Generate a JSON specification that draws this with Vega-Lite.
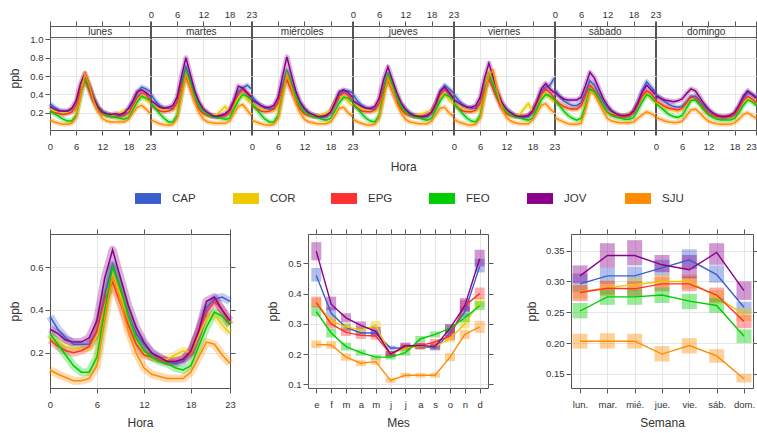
{
"$schema":"https://vega.github.io/schema/vega-lite/v6.json",
"padding":{"left":8,"top":8,"right":0,"bottom":2},
"config":{"font":"Liberation Sans, Arial, sans-serif","view":{"stroke":"#555"},
"axis":{"labelFontSize":9.5,"titleFontSize":12,"labelColor":"#333","titleColor":"#333","titleFontWeight":"normal","tickColor":"#555","domain":false,"gridColor":"#e6e6e6","labelFlush":false,"tickSize":5,"labelOverlap":false,"titlePadding":8}},
"datasets":{
"week":[
{"d":0,"h":0,"CAP":0.3,"COR":0.24,"EPG":0.22,"FEO":0.22,"JOV":0.27,"SJU":0.12},
{"d":0,"h":1,"CAP":0.26,"COR":0.22,"EPG":0.2,"FEO":0.19,"JOV":0.24,"SJU":0.1},
{"d":0,"h":2,"CAP":0.23,"COR":0.21,"EPG":0.19,"FEO":0.16,"JOV":0.22,"SJU":0.085},
{"d":0,"h":3,"CAP":0.21,"COR":0.2,"EPG":0.18,"FEO":0.13,"JOV":0.22,"SJU":0.075},
{"d":0,"h":4,"CAP":0.21,"COR":0.2,"EPG":0.19,"FEO":0.11,"JOV":0.22,"SJU":0.075},
{"d":0,"h":5,"CAP":0.22,"COR":0.21,"EPG":0.21,"FEO":0.11,"JOV":0.25,"SJU":0.085},
{"d":0,"h":6,"CAP":0.28,"COR":0.27,"EPG":0.28,"FEO":0.17,"JOV":0.33,"SJU":0.15},
{"d":0,"h":7,"CAP":0.45,"COR":0.45,"EPG":0.45,"FEO":0.38,"JOV":0.52,"SJU":0.38},
{"d":0,"h":8,"CAP":0.58,"COR":0.6,"EPG":0.56,"FEO":0.58,"JOV":0.63,"SJU":0.63},
{"d":0,"h":9,"CAP":0.48,"COR":0.48,"EPG":0.44,"FEO":0.47,"JOV":0.5,"SJU":0.5},
{"d":0,"h":10,"CAP":0.35,"COR":0.35,"EPG":0.32,"FEO":0.34,"JOV":0.36,"SJU":0.33},
{"d":0,"h":11,"CAP":0.26,"COR":0.25,"EPG":0.23,"FEO":0.25,"JOV":0.26,"SJU":0.21},
{"d":0,"h":12,"CAP":0.21,"COR":0.2,"EPG":0.19,"FEO":0.2,"JOV":0.21,"SJU":0.14},
{"d":0,"h":13,"CAP":0.19,"COR":0.18,"EPG":0.17,"FEO":0.17,"JOV":0.19,"SJU":0.11},
{"d":0,"h":14,"CAP":0.17,"COR":0.17,"EPG":0.16,"FEO":0.16,"JOV":0.18,"SJU":0.1},
{"d":0,"h":15,"CAP":0.17,"COR":0.18,"EPG":0.16,"FEO":0.15,"JOV":0.19,"SJU":0.1},
{"d":0,"h":16,"CAP":0.17,"COR":0.2,"EPG":0.16,"FEO":0.14,"JOV":0.18,"SJU":0.1},
{"d":0,"h":17,"CAP":0.19,"COR":0.22,"EPG":0.17,"FEO":0.13,"JOV":0.2,"SJU":0.1},
{"d":0,"h":18,"CAP":0.23,"COR":0.22,"EPG":0.2,"FEO":0.15,"JOV":0.25,"SJU":0.13},
{"d":0,"h":19,"CAP":0.32,"COR":0.27,"EPG":0.28,"FEO":0.23,"JOV":0.33,"SJU":0.2},
{"d":0,"h":20,"CAP":0.42,"COR":0.34,"EPG":0.37,"FEO":0.32,"JOV":0.43,"SJU":0.26},
{"d":0,"h":21,"CAP":0.48,"COR":0.38,"EPG":0.42,"FEO":0.38,"JOV":0.45,"SJU":0.28},
{"d":0,"h":22,"CAP":0.46,"COR":0.34,"EPG":0.4,"FEO":0.36,"JOV":0.42,"SJU":0.24},
{"d":0,"h":23,"CAP":0.43,"COR":0.3,"EPG":0.34,"FEO":0.33,"JOV":0.38,"SJU":0.19},
{"d":1,"h":0,"CAP":0.4,"COR":0.29,"EPG":0.28,"FEO":0.3,"JOV":0.33,"SJU":0.12},
{"d":1,"h":1,"CAP":0.33,"COR":0.26,"EPG":0.25,"FEO":0.25,"JOV":0.3,"SJU":0.1},
{"d":1,"h":2,"CAP":0.28,"COR":0.24,"EPG":0.22,"FEO":0.19,"JOV":0.26,"SJU":0.08},
{"d":1,"h":3,"CAP":0.25,"COR":0.23,"EPG":0.21,"FEO":0.14,"JOV":0.25,"SJU":0.07},
{"d":1,"h":4,"CAP":0.24,"COR":0.23,"EPG":0.22,"FEO":0.1,"JOV":0.26,"SJU":0.065},
{"d":1,"h":5,"CAP":0.25,"COR":0.23,"EPG":0.24,"FEO":0.1,"JOV":0.28,"SJU":0.075},
{"d":1,"h":6,"CAP":0.31,"COR":0.29,"EPG":0.31,"FEO":0.17,"JOV":0.37,"SJU":0.14},
{"d":1,"h":7,"CAP":0.52,"COR":0.48,"EPG":0.5,"FEO":0.42,"JOV":0.6,"SJU":0.38},
{"d":1,"h":8,"CAP":0.7,"COR":0.62,"EPG":0.6,"FEO":0.66,"JOV":0.8,"SJU":0.62},
{"d":1,"h":9,"CAP":0.55,"COR":0.5,"EPG":0.47,"FEO":0.53,"JOV":0.62,"SJU":0.48},
{"d":1,"h":10,"CAP":0.4,"COR":0.38,"EPG":0.34,"FEO":0.38,"JOV":0.44,"SJU":0.32},
{"d":1,"h":11,"CAP":0.29,"COR":0.27,"EPG":0.24,"FEO":0.27,"JOV":0.32,"SJU":0.2},
{"d":1,"h":12,"CAP":0.23,"COR":0.21,"EPG":0.19,"FEO":0.21,"JOV":0.24,"SJU":0.13},
{"d":1,"h":13,"CAP":0.19,"COR":0.18,"EPG":0.17,"FEO":0.18,"JOV":0.2,"SJU":0.1},
{"d":1,"h":14,"CAP":0.17,"COR":0.17,"EPG":0.16,"FEO":0.16,"JOV":0.17,"SJU":0.09},
{"d":1,"h":15,"CAP":0.16,"COR":0.18,"EPG":0.16,"FEO":0.15,"JOV":0.16,"SJU":0.085},
{"d":1,"h":16,"CAP":0.16,"COR":0.22,"EPG":0.16,"FEO":0.14,"JOV":0.17,"SJU":0.085},
{"d":1,"h":17,"CAP":0.17,"COR":0.27,"EPG":0.17,"FEO":0.13,"JOV":0.19,"SJU":0.085},
{"d":1,"h":18,"CAP":0.21,"COR":0.2,"EPG":0.2,"FEO":0.14,"JOV":0.23,"SJU":0.11},
{"d":1,"h":19,"CAP":0.32,"COR":0.29,"EPG":0.31,"FEO":0.24,"JOV":0.33,"SJU":0.19},
{"d":1,"h":20,"CAP":0.43,"COR":0.37,"EPG":0.4,"FEO":0.33,"JOV":0.49,"SJU":0.27},
{"d":1,"h":21,"CAP":0.47,"COR":0.4,"EPG":0.45,"FEO":0.4,"JOV":0.47,"SJU":0.29},
{"d":1,"h":22,"CAP":0.5,"COR":0.34,"EPG":0.41,"FEO":0.38,"JOV":0.42,"SJU":0.23},
{"d":1,"h":23,"CAP":0.46,"COR":0.3,"EPG":0.34,"FEO":0.34,"JOV":0.37,"SJU":0.17},
{"d":2,"h":0,"CAP":0.38,"COR":0.3,"EPG":0.28,"FEO":0.3,"JOV":0.34,"SJU":0.12},
{"d":2,"h":1,"CAP":0.32,"COR":0.26,"EPG":0.25,"FEO":0.24,"JOV":0.31,"SJU":0.1},
{"d":2,"h":2,"CAP":0.28,"COR":0.24,"EPG":0.22,"FEO":0.18,"JOV":0.28,"SJU":0.08},
{"d":2,"h":3,"CAP":0.25,"COR":0.23,"EPG":0.21,"FEO":0.13,"JOV":0.26,"SJU":0.07},
{"d":2,"h":4,"CAP":0.24,"COR":0.22,"EPG":0.22,"FEO":0.1,"JOV":0.26,"SJU":0.065},
{"d":2,"h":5,"CAP":0.25,"COR":0.22,"EPG":0.24,"FEO":0.1,"JOV":0.28,"SJU":0.075},
{"d":2,"h":6,"CAP":0.31,"COR":0.28,"EPG":0.31,"FEO":0.17,"JOV":0.37,"SJU":0.14},
{"d":2,"h":7,"CAP":0.5,"COR":0.46,"EPG":0.48,"FEO":0.42,"JOV":0.6,"SJU":0.38},
{"d":2,"h":8,"CAP":0.66,"COR":0.6,"EPG":0.56,"FEO":0.64,"JOV":0.81,"SJU":0.62},
{"d":2,"h":9,"CAP":0.53,"COR":0.49,"EPG":0.44,"FEO":0.52,"JOV":0.62,"SJU":0.48},
{"d":2,"h":10,"CAP":0.4,"COR":0.38,"EPG":0.33,"FEO":0.38,"JOV":0.44,"SJU":0.31},
{"d":2,"h":11,"CAP":0.3,"COR":0.27,"EPG":0.24,"FEO":0.27,"JOV":0.32,"SJU":0.2},
{"d":2,"h":12,"CAP":0.24,"COR":0.2,"EPG":0.19,"FEO":0.21,"JOV":0.25,"SJU":0.13},
{"d":2,"h":13,"CAP":0.2,"COR":0.18,"EPG":0.17,"FEO":0.18,"JOV":0.2,"SJU":0.1},
{"d":2,"h":14,"CAP":0.17,"COR":0.17,"EPG":0.16,"FEO":0.16,"JOV":0.18,"SJU":0.09},
{"d":2,"h":15,"CAP":0.16,"COR":0.17,"EPG":0.16,"FEO":0.15,"JOV":0.16,"SJU":0.08},
{"d":2,"h":16,"CAP":0.15,"COR":0.18,"EPG":0.16,"FEO":0.13,"JOV":0.16,"SJU":0.08},
{"d":2,"h":17,"CAP":0.16,"COR":0.2,"EPG":0.17,"FEO":0.12,"JOV":0.17,"SJU":0.08},
{"d":2,"h":18,"CAP":0.2,"COR":0.22,"EPG":0.2,"FEO":0.14,"JOV":0.21,"SJU":0.1},
{"d":2,"h":19,"CAP":0.3,"COR":0.32,"EPG":0.3,"FEO":0.22,"JOV":0.31,"SJU":0.17},
{"d":2,"h":20,"CAP":0.4,"COR":0.38,"EPG":0.38,"FEO":0.31,"JOV":0.43,"SJU":0.25},
{"d":2,"h":21,"CAP":0.44,"COR":0.37,"EPG":0.42,"FEO":0.37,"JOV":0.45,"SJU":0.26},
{"d":2,"h":22,"CAP":0.44,"COR":0.32,"EPG":0.39,"FEO":0.36,"JOV":0.42,"SJU":0.2},
{"d":2,"h":23,"CAP":0.42,"COR":0.28,"EPG":0.33,"FEO":0.32,"JOV":0.37,"SJU":0.16},
{"d":3,"h":0,"CAP":0.4,"COR":0.3,"EPG":0.28,"FEO":0.3,"JOV":0.33,"SJU":0.13},
{"d":3,"h":1,"CAP":0.33,"COR":0.27,"EPG":0.25,"FEO":0.25,"JOV":0.3,"SJU":0.1},
{"d":3,"h":2,"CAP":0.28,"COR":0.24,"EPG":0.22,"FEO":0.19,"JOV":0.27,"SJU":0.085},
{"d":3,"h":3,"CAP":0.25,"COR":0.23,"EPG":0.21,"FEO":0.14,"JOV":0.25,"SJU":0.07},
{"d":3,"h":4,"CAP":0.24,"COR":0.22,"EPG":0.21,"FEO":0.11,"JOV":0.25,"SJU":0.065},
{"d":3,"h":5,"CAP":0.24,"COR":0.22,"EPG":0.23,"FEO":0.1,"JOV":0.27,"SJU":0.075},
{"d":3,"h":6,"CAP":0.3,"COR":0.28,"EPG":0.3,"FEO":0.17,"JOV":0.36,"SJU":0.14},
{"d":3,"h":7,"CAP":0.47,"COR":0.45,"EPG":0.46,"FEO":0.41,"JOV":0.56,"SJU":0.36},
{"d":3,"h":8,"CAP":0.62,"COR":0.58,"EPG":0.56,"FEO":0.62,"JOV":0.7,"SJU":0.58},
{"d":3,"h":9,"CAP":0.5,"COR":0.48,"EPG":0.44,"FEO":0.51,"JOV":0.56,"SJU":0.45},
{"d":3,"h":10,"CAP":0.38,"COR":0.37,"EPG":0.33,"FEO":0.37,"JOV":0.42,"SJU":0.3},
{"d":3,"h":11,"CAP":0.29,"COR":0.27,"EPG":0.24,"FEO":0.27,"JOV":0.31,"SJU":0.2},
{"d":3,"h":12,"CAP":0.24,"COR":0.2,"EPG":0.19,"FEO":0.21,"JOV":0.24,"SJU":0.13},
{"d":3,"h":13,"CAP":0.2,"COR":0.18,"EPG":0.17,"FEO":0.18,"JOV":0.19,"SJU":0.1},
{"d":3,"h":14,"CAP":0.17,"COR":0.17,"EPG":0.16,"FEO":0.16,"JOV":0.17,"SJU":0.09},
{"d":3,"h":15,"CAP":0.16,"COR":0.18,"EPG":0.16,"FEO":0.15,"JOV":0.16,"SJU":0.08},
{"d":3,"h":16,"CAP":0.15,"COR":0.19,"EPG":0.16,"FEO":0.13,"JOV":0.16,"SJU":0.08},
{"d":3,"h":17,"CAP":0.16,"COR":0.21,"EPG":0.17,"FEO":0.12,"JOV":0.17,"SJU":0.08},
{"d":3,"h":18,"CAP":0.2,"COR":0.21,"EPG":0.2,"FEO":0.14,"JOV":0.21,"SJU":0.11},
{"d":3,"h":19,"CAP":0.3,"COR":0.3,"EPG":0.3,"FEO":0.23,"JOV":0.3,"SJU":0.18},
{"d":3,"h":20,"CAP":0.42,"COR":0.38,"EPG":0.4,"FEO":0.33,"JOV":0.44,"SJU":0.25},
{"d":3,"h":21,"CAP":0.5,"COR":0.4,"EPG":0.45,"FEO":0.4,"JOV":0.48,"SJU":0.26},
{"d":3,"h":22,"CAP":0.46,"COR":0.34,"EPG":0.41,"FEO":0.38,"JOV":0.42,"SJU":0.2},
{"d":3,"h":23,"CAP":0.42,"COR":0.3,"EPG":0.34,"FEO":0.34,"JOV":0.36,"SJU":0.16},
{"d":4,"h":0,"CAP":0.4,"COR":0.3,"EPG":0.29,"FEO":0.3,"JOV":0.34,"SJU":0.13},
{"d":4,"h":1,"CAP":0.34,"COR":0.27,"EPG":0.25,"FEO":0.25,"JOV":0.31,"SJU":0.1},
{"d":4,"h":2,"CAP":0.29,"COR":0.24,"EPG":0.22,"FEO":0.19,"JOV":0.28,"SJU":0.085},
{"d":4,"h":3,"CAP":0.26,"COR":0.23,"EPG":0.21,"FEO":0.14,"JOV":0.26,"SJU":0.07},
{"d":4,"h":4,"CAP":0.25,"COR":0.22,"EPG":0.21,"FEO":0.11,"JOV":0.26,"SJU":0.065},
{"d":4,"h":5,"CAP":0.25,"COR":0.22,"EPG":0.23,"FEO":0.1,"JOV":0.28,"SJU":0.075},
{"d":4,"h":6,"CAP":0.31,"COR":0.28,"EPG":0.3,"FEO":0.17,"JOV":0.37,"SJU":0.14},
{"d":4,"h":7,"CAP":0.48,"COR":0.46,"EPG":0.46,"FEO":0.41,"JOV":0.58,"SJU":0.38},
{"d":4,"h":8,"CAP":0.62,"COR":0.64,"EPG":0.57,"FEO":0.62,"JOV":0.74,"SJU":0.62},
{"d":4,"h":9,"CAP":0.5,"COR":0.52,"EPG":0.45,"FEO":0.51,"JOV":0.58,"SJU":0.66},
{"d":4,"h":10,"CAP":0.38,"COR":0.4,"EPG":0.34,"FEO":0.37,"JOV":0.43,"SJU":0.42},
{"d":4,"h":11,"CAP":0.29,"COR":0.28,"EPG":0.24,"FEO":0.27,"JOV":0.31,"SJU":0.25},
{"d":4,"h":12,"CAP":0.24,"COR":0.21,"EPG":0.19,"FEO":0.21,"JOV":0.24,"SJU":0.15},
{"d":4,"h":13,"CAP":0.2,"COR":0.18,"EPG":0.17,"FEO":0.18,"JOV":0.2,"SJU":0.11},
{"d":4,"h":14,"CAP":0.17,"COR":0.17,"EPG":0.16,"FEO":0.16,"JOV":0.17,"SJU":0.09},
{"d":4,"h":15,"CAP":0.16,"COR":0.18,"EPG":0.16,"FEO":0.15,"JOV":0.16,"SJU":0.08},
{"d":4,"h":16,"CAP":0.15,"COR":0.24,"EPG":0.16,"FEO":0.13,"JOV":0.16,"SJU":0.08},
{"d":4,"h":17,"CAP":0.16,"COR":0.3,"EPG":0.17,"FEO":0.12,"JOV":0.17,"SJU":0.08},
{"d":4,"h":18,"CAP":0.2,"COR":0.22,"EPG":0.21,"FEO":0.14,"JOV":0.22,"SJU":0.12},
{"d":4,"h":19,"CAP":0.31,"COR":0.3,"EPG":0.31,"FEO":0.24,"JOV":0.32,"SJU":0.2},
{"d":4,"h":20,"CAP":0.43,"COR":0.39,"EPG":0.4,"FEO":0.34,"JOV":0.46,"SJU":0.28},
{"d":4,"h":21,"CAP":0.48,"COR":0.41,"EPG":0.46,"FEO":0.4,"JOV":0.52,"SJU":0.3},
{"d":4,"h":22,"CAP":0.5,"COR":0.36,"EPG":0.42,"FEO":0.38,"JOV":0.46,"SJU":0.24},
{"d":4,"h":23,"CAP":0.58,"COR":0.32,"EPG":0.36,"FEO":0.34,"JOV":0.42,"SJU":0.2},
{"d":5,"h":0,"CAP":0.45,"COR":0.33,"EPG":0.34,"FEO":0.33,"JOV":0.42,"SJU":0.15},
{"d":5,"h":1,"CAP":0.38,"COR":0.3,"EPG":0.3,"FEO":0.28,"JOV":0.38,"SJU":0.12},
{"d":5,"h":2,"CAP":0.33,"COR":0.27,"EPG":0.27,"FEO":0.22,"JOV":0.35,"SJU":0.1},
{"d":5,"h":3,"CAP":0.3,"COR":0.25,"EPG":0.25,"FEO":0.17,"JOV":0.34,"SJU":0.08},
{"d":5,"h":4,"CAP":0.28,"COR":0.24,"EPG":0.24,"FEO":0.14,"JOV":0.34,"SJU":0.075},
{"d":5,"h":5,"CAP":0.28,"COR":0.24,"EPG":0.24,"FEO":0.12,"JOV":0.34,"SJU":0.075},
{"d":5,"h":6,"CAP":0.31,"COR":0.27,"EPG":0.28,"FEO":0.14,"JOV":0.37,"SJU":0.09},
{"d":5,"h":7,"CAP":0.42,"COR":0.38,"EPG":0.39,"FEO":0.28,"JOV":0.5,"SJU":0.24},
{"d":5,"h":8,"CAP":0.55,"COR":0.5,"EPG":0.5,"FEO":0.46,"JOV":0.64,"SJU":0.43},
{"d":5,"h":9,"CAP":0.5,"COR":0.45,"EPG":0.45,"FEO":0.43,"JOV":0.58,"SJU":0.4},
{"d":5,"h":10,"CAP":0.41,"COR":0.37,"EPG":0.37,"FEO":0.36,"JOV":0.47,"SJU":0.31},
{"d":5,"h":11,"CAP":0.32,"COR":0.29,"EPG":0.28,"FEO":0.28,"JOV":0.36,"SJU":0.22},
{"d":5,"h":12,"CAP":0.25,"COR":0.22,"EPG":0.21,"FEO":0.21,"JOV":0.28,"SJU":0.14},
{"d":5,"h":13,"CAP":0.21,"COR":0.19,"EPG":0.18,"FEO":0.17,"JOV":0.22,"SJU":0.11},
{"d":5,"h":14,"CAP":0.18,"COR":0.17,"EPG":0.17,"FEO":0.15,"JOV":0.19,"SJU":0.1},
{"d":5,"h":15,"CAP":0.17,"COR":0.17,"EPG":0.16,"FEO":0.14,"JOV":0.17,"SJU":0.09},
{"d":5,"h":16,"CAP":0.16,"COR":0.17,"EPG":0.16,"FEO":0.13,"JOV":0.17,"SJU":0.09},
{"d":5,"h":17,"CAP":0.17,"COR":0.19,"EPG":0.17,"FEO":0.13,"JOV":0.18,"SJU":0.09},
{"d":5,"h":18,"CAP":0.21,"COR":0.21,"EPG":0.2,"FEO":0.15,"JOV":0.22,"SJU":0.1},
{"d":5,"h":19,"CAP":0.31,"COR":0.29,"EPG":0.29,"FEO":0.23,"JOV":0.31,"SJU":0.14},
{"d":5,"h":20,"CAP":0.44,"COR":0.37,"EPG":0.38,"FEO":0.32,"JOV":0.43,"SJU":0.18},
{"d":5,"h":21,"CAP":0.54,"COR":0.42,"EPG":0.44,"FEO":0.4,"JOV":0.5,"SJU":0.21},
{"d":5,"h":22,"CAP":0.48,"COR":0.36,"EPG":0.41,"FEO":0.37,"JOV":0.45,"SJU":0.19},
{"d":5,"h":23,"CAP":0.43,"COR":0.31,"EPG":0.35,"FEO":0.32,"JOV":0.4,"SJU":0.16},
{"d":6,"h":0,"CAP":0.4,"COR":0.32,"EPG":0.33,"FEO":0.3,"JOV":0.38,"SJU":0.15},
{"d":6,"h":1,"CAP":0.36,"COR":0.29,"EPG":0.3,"FEO":0.26,"JOV":0.36,"SJU":0.13},
{"d":6,"h":2,"CAP":0.32,"COR":0.26,"EPG":0.27,"FEO":0.22,"JOV":0.34,"SJU":0.11},
{"d":6,"h":3,"CAP":0.29,"COR":0.24,"EPG":0.25,"FEO":0.18,"JOV":0.33,"SJU":0.1},
{"d":6,"h":4,"CAP":0.27,"COR":0.23,"EPG":0.24,"FEO":0.16,"JOV":0.32,"SJU":0.095},
{"d":6,"h":5,"CAP":0.26,"COR":0.22,"EPG":0.23,"FEO":0.15,"JOV":0.33,"SJU":0.095},
{"d":6,"h":6,"CAP":0.27,"COR":0.24,"EPG":0.25,"FEO":0.17,"JOV":0.35,"SJU":0.11},
{"d":6,"h":7,"CAP":0.32,"COR":0.3,"EPG":0.31,"FEO":0.25,"JOV":0.41,"SJU":0.17},
{"d":6,"h":8,"CAP":0.38,"COR":0.36,"EPG":0.37,"FEO":0.33,"JOV":0.46,"SJU":0.23},
{"d":6,"h":9,"CAP":0.38,"COR":0.36,"EPG":0.36,"FEO":0.34,"JOV":0.44,"SJU":0.24},
{"d":6,"h":10,"CAP":0.33,"COR":0.31,"EPG":0.31,"FEO":0.29,"JOV":0.37,"SJU":0.2},
{"d":6,"h":11,"CAP":0.27,"COR":0.25,"EPG":0.25,"FEO":0.23,"JOV":0.3,"SJU":0.15},
{"d":6,"h":12,"CAP":0.22,"COR":0.2,"EPG":0.2,"FEO":0.18,"JOV":0.24,"SJU":0.11},
{"d":6,"h":13,"CAP":0.18,"COR":0.17,"EPG":0.17,"FEO":0.15,"JOV":0.2,"SJU":0.09},
{"d":6,"h":14,"CAP":0.16,"COR":0.16,"EPG":0.16,"FEO":0.13,"JOV":0.17,"SJU":0.08},
{"d":6,"h":15,"CAP":0.15,"COR":0.15,"EPG":0.15,"FEO":0.12,"JOV":0.16,"SJU":0.075},
{"d":6,"h":16,"CAP":0.15,"COR":0.15,"EPG":0.15,"FEO":0.12,"JOV":0.16,"SJU":0.075},
{"d":6,"h":17,"CAP":0.16,"COR":0.16,"EPG":0.16,"FEO":0.12,"JOV":0.17,"SJU":0.075},
{"d":6,"h":18,"CAP":0.19,"COR":0.19,"EPG":0.18,"FEO":0.14,"JOV":0.2,"SJU":0.09},
{"d":6,"h":19,"CAP":0.26,"COR":0.25,"EPG":0.25,"FEO":0.2,"JOV":0.28,"SJU":0.13},
{"d":6,"h":20,"CAP":0.35,"COR":0.32,"EPG":0.33,"FEO":0.28,"JOV":0.38,"SJU":0.18},
{"d":6,"h":21,"CAP":0.42,"COR":0.36,"EPG":0.38,"FEO":0.34,"JOV":0.44,"SJU":0.2},
{"d":6,"h":22,"CAP":0.4,"COR":0.33,"EPG":0.35,"FEO":0.32,"JOV":0.4,"SJU":0.17},
{"d":6,"h":23,"CAP":0.37,"COR":0.29,"EPG":0.31,"FEO":0.28,"JOV":0.36,"SJU":0.14}
],
"hour":[
{"h":0,"CAP":0.37,"COR":0.28,"EPG":0.26,"FEO":0.29,"JOV":0.31,"SJU":0.12},
{"h":1,"CAP":0.31,"COR":0.25,"EPG":0.23,"FEO":0.24,"JOV":0.29,"SJU":0.1},
{"h":2,"CAP":0.27,"COR":0.23,"EPG":0.21,"FEO":0.19,"JOV":0.26,"SJU":0.085},
{"h":3,"CAP":0.24,"COR":0.22,"EPG":0.2,"FEO":0.14,"JOV":0.25,"SJU":0.07},
{"h":4,"CAP":0.24,"COR":0.22,"EPG":0.21,"FEO":0.11,"JOV":0.25,"SJU":0.07},
{"h":5,"CAP":0.24,"COR":0.22,"EPG":0.23,"FEO":0.11,"JOV":0.27,"SJU":0.08},
{"h":6,"CAP":0.3,"COR":0.28,"EPG":0.3,"FEO":0.18,"JOV":0.35,"SJU":0.14},
{"h":7,"CAP":0.47,"COR":0.44,"EPG":0.45,"FEO":0.4,"JOV":0.55,"SJU":0.35},
{"h":8,"CAP":0.61,"COR":0.56,"EPG":0.53,"FEO":0.6,"JOV":0.68,"SJU":0.56},
{"h":9,"CAP":0.5,"COR":0.47,"EPG":0.43,"FEO":0.5,"JOV":0.55,"SJU":0.44},
{"h":10,"CAP":0.38,"COR":0.37,"EPG":0.33,"FEO":0.37,"JOV":0.42,"SJU":0.3},
{"h":11,"CAP":0.29,"COR":0.27,"EPG":0.24,"FEO":0.27,"JOV":0.32,"SJU":0.2},
{"h":12,"CAP":0.24,"COR":0.2,"EPG":0.19,"FEO":0.21,"JOV":0.25,"SJU":0.13},
{"h":13,"CAP":0.2,"COR":0.18,"EPG":0.18,"FEO":0.18,"JOV":0.2,"SJU":0.1},
{"h":14,"CAP":0.17,"COR":0.17,"EPG":0.17,"FEO":0.16,"JOV":0.18,"SJU":0.09},
{"h":15,"CAP":0.16,"COR":0.17,"EPG":0.16,"FEO":0.15,"JOV":0.16,"SJU":0.08},
{"h":16,"CAP":0.15,"COR":0.19,"EPG":0.16,"FEO":0.13,"JOV":0.16,"SJU":0.08},
{"h":17,"CAP":0.16,"COR":0.21,"EPG":0.17,"FEO":0.12,"JOV":0.17,"SJU":0.08},
{"h":18,"CAP":0.2,"COR":0.2,"EPG":0.2,"FEO":0.14,"JOV":0.21,"SJU":0.11},
{"h":19,"CAP":0.3,"COR":0.28,"EPG":0.3,"FEO":0.23,"JOV":0.3,"SJU":0.18},
{"h":20,"CAP":0.41,"COR":0.36,"EPG":0.39,"FEO":0.32,"JOV":0.44,"SJU":0.25},
{"h":21,"CAP":0.45,"COR":0.38,"EPG":0.44,"FEO":0.39,"JOV":0.46,"SJU":0.24},
{"h":22,"CAP":0.46,"COR":0.33,"EPG":0.4,"FEO":0.37,"JOV":0.4,"SJU":0.19},
{"h":23,"CAP":0.44,"COR":0.29,"EPG":0.33,"FEO":0.33,"JOV":0.35,"SJU":0.15}
],
"month":[
{"site":"CAP","m":1,"v":0.46,"lo":0.44,"hi":0.485},{"site":"CAP","m":2,"v":0.335,"lo":0.315,"hi":0.355},{"site":"CAP","m":3,"v":0.288,"lo":0.275,"hi":0.3},{"site":"CAP","m":4,"v":0.27,"lo":0.26,"hi":0.282},{"site":"CAP","m":5,"v":0.27,"lo":0.258,"hi":0.28},{"site":"CAP","m":6,"v":0.22,"lo":0.212,"hi":0.228},{"site":"CAP","m":7,"v":0.22,"lo":0.212,"hi":0.23},{"site":"CAP","m":8,"v":0.225,"lo":0.215,"hi":0.233},{"site":"CAP","m":9,"v":0.22,"lo":0.212,"hi":0.23},{"site":"CAP","m":10,"v":0.27,"lo":0.258,"hi":0.284},{"site":"CAP","m":11,"v":0.34,"lo":0.322,"hi":0.358},{"site":"CAP","m":12,"v":0.49,"lo":0.47,"hi":0.515},
{"site":"COR","m":1,"v":0.37,"lo":0.355,"hi":0.385},{"site":"COR","m":2,"v":0.31,"lo":0.295,"hi":0.325},{"site":"COR","m":3,"v":0.29,"lo":0.277,"hi":0.303},{"site":"COR","m":4,"v":0.28,"lo":0.268,"hi":0.292},{"site":"COR","m":5,"v":0.295,"lo":0.28,"hi":0.31},{"site":"COR","m":6,"v":0.2,"lo":0.192,"hi":0.21},{"site":"COR","m":7,"v":0.22,"lo":0.21,"hi":0.23},{"site":"COR","m":8,"v":0.225,"lo":0.215,"hi":0.235},{"site":"COR","m":9,"v":0.225,"lo":0.215,"hi":0.235},{"site":"COR","m":10,"v":0.25,"lo":0.238,"hi":0.262},{"site":"COR","m":11,"v":0.3,"lo":0.285,"hi":0.315},{"site":"COR","m":12,"v":0.37,"lo":0.355,"hi":0.385},
{"site":"EPG","m":1,"v":0.37,"lo":0.355,"hi":0.39},{"site":"EPG","m":2,"v":0.3,"lo":0.286,"hi":0.315},{"site":"EPG","m":3,"v":0.272,"lo":0.26,"hi":0.285},{"site":"EPG","m":4,"v":0.262,"lo":0.25,"hi":0.273},{"site":"EPG","m":5,"v":0.26,"lo":0.248,"hi":0.272},{"site":"EPG","m":6,"v":0.2,"lo":0.192,"hi":0.21},{"site":"EPG","m":7,"v":0.225,"lo":0.215,"hi":0.235},{"site":"EPG","m":8,"v":0.228,"lo":0.218,"hi":0.238},{"site":"EPG","m":9,"v":0.24,"lo":0.228,"hi":0.25},{"site":"EPG","m":10,"v":0.26,"lo":0.246,"hi":0.274},{"site":"EPG","m":11,"v":0.36,"lo":0.343,"hi":0.378},{"site":"EPG","m":12,"v":0.4,"lo":0.382,"hi":0.42},
{"site":"FEO","m":1,"v":0.34,"lo":0.325,"hi":0.358},{"site":"FEO","m":2,"v":0.27,"lo":0.255,"hi":0.285},{"site":"FEO","m":3,"v":0.225,"lo":0.212,"hi":0.238},{"site":"FEO","m":4,"v":0.205,"lo":0.195,"hi":0.215},{"site":"FEO","m":5,"v":0.19,"lo":0.182,"hi":0.198},{"site":"FEO","m":6,"v":0.19,"lo":0.182,"hi":0.198},{"site":"FEO","m":7,"v":0.205,"lo":0.195,"hi":0.215},{"site":"FEO","m":8,"v":0.25,"lo":0.24,"hi":0.26},{"site":"FEO","m":9,"v":0.265,"lo":0.255,"hi":0.275},{"site":"FEO","m":10,"v":0.285,"lo":0.273,"hi":0.297},{"site":"FEO","m":11,"v":0.32,"lo":0.305,"hi":0.335},{"site":"FEO","m":12,"v":0.36,"lo":0.345,"hi":0.375},
{"site":"JOV","m":1,"v":0.54,"lo":0.51,"hi":0.57},{"site":"JOV","m":2,"v":0.365,"lo":0.345,"hi":0.39},{"site":"JOV","m":3,"v":0.32,"lo":0.305,"hi":0.335},{"site":"JOV","m":4,"v":0.295,"lo":0.283,"hi":0.308},{"site":"JOV","m":5,"v":0.275,"lo":0.262,"hi":0.29},{"site":"JOV","m":6,"v":0.2,"lo":0.192,"hi":0.21},{"site":"JOV","m":7,"v":0.228,"lo":0.218,"hi":0.238},{"site":"JOV","m":8,"v":0.228,"lo":0.218,"hi":0.238},{"site":"JOV","m":9,"v":0.225,"lo":0.215,"hi":0.235},{"site":"JOV","m":10,"v":0.285,"lo":0.27,"hi":0.3},{"site":"JOV","m":11,"v":0.36,"lo":0.34,"hi":0.385},{"site":"JOV","m":12,"v":0.515,"lo":0.49,"hi":0.545},
{"site":"SJU","m":1,"v":0.232,"lo":0.22,"hi":0.245},{"site":"SJU","m":2,"v":0.23,"lo":0.218,"hi":0.243},{"site":"SJU","m":3,"v":0.19,"lo":0.178,"hi":0.202},{"site":"SJU","m":4,"v":0.17,"lo":0.16,"hi":0.18},{"site":"SJU","m":5,"v":0.175,"lo":0.165,"hi":0.185},{"site":"SJU","m":6,"v":0.113,"lo":0.105,"hi":0.122},{"site":"SJU","m":7,"v":0.13,"lo":0.122,"hi":0.138},{"site":"SJU","m":8,"v":0.13,"lo":0.122,"hi":0.138},{"site":"SJU","m":9,"v":0.13,"lo":0.122,"hi":0.138},{"site":"SJU","m":10,"v":0.19,"lo":0.177,"hi":0.203},{"site":"SJU","m":11,"v":0.265,"lo":0.25,"hi":0.28},{"site":"SJU","m":12,"v":0.29,"lo":0.27,"hi":0.31}
],
"wday":[
{"site":"CAP","wd":"lun.","v":0.296,"lo":0.283,"hi":0.313},{"site":"CAP","wd":"mar.","v":0.309,"lo":0.296,"hi":0.322},{"site":"CAP","wd":"mié.","v":0.309,"lo":0.296,"hi":0.324},{"site":"CAP","wd":"jue.","v":0.322,"lo":0.309,"hi":0.335},{"site":"CAP","wd":"vie.","v":0.335,"lo":0.32,"hi":0.352},{"site":"CAP","wd":"sáb.","v":0.311,"lo":0.298,"hi":0.326},{"site":"CAP","wd":"dom.","v":0.258,"lo":0.247,"hi":0.267},
{"site":"COR","wd":"lun.","v":0.283,"lo":0.272,"hi":0.294},{"site":"COR","wd":"mar.","v":0.29,"lo":0.279,"hi":0.301},{"site":"COR","wd":"mié.","v":0.295,"lo":0.284,"hi":0.306},{"site":"COR","wd":"jue.","v":0.3,"lo":0.289,"hi":0.311},{"site":"COR","wd":"vie.","v":0.3,"lo":0.288,"hi":0.311},{"site":"COR","wd":"sáb.","v":0.275,"lo":0.264,"hi":0.286},{"site":"COR","wd":"dom.","v":0.246,"lo":0.236,"hi":0.256},
{"site":"EPG","wd":"lun.","v":0.282,"lo":0.268,"hi":0.294},{"site":"EPG","wd":"mar.","v":0.289,"lo":0.277,"hi":0.301},{"site":"EPG","wd":"mié.","v":0.288,"lo":0.276,"hi":0.3},{"site":"EPG","wd":"jue.","v":0.296,"lo":0.284,"hi":0.308},{"site":"EPG","wd":"vie.","v":0.296,"lo":0.284,"hi":0.308},{"site":"EPG","wd":"sáb.","v":0.278,"lo":0.266,"hi":0.29},{"site":"EPG","wd":"dom.","v":0.235,"lo":0.224,"hi":0.246},
{"site":"FEO","wd":"lun.","v":0.252,"lo":0.24,"hi":0.265},{"site":"FEO","wd":"mar.","v":0.275,"lo":0.262,"hi":0.287},{"site":"FEO","wd":"mié.","v":0.275,"lo":0.262,"hi":0.287},{"site":"FEO","wd":"jue.","v":0.278,"lo":0.265,"hi":0.29},{"site":"FEO","wd":"vie.","v":0.268,"lo":0.255,"hi":0.28},{"site":"FEO","wd":"sáb.","v":0.261,"lo":0.249,"hi":0.273},{"site":"FEO","wd":"dom.","v":0.211,"lo":0.2,"hi":0.222},
{"site":"JOV","wd":"lun.","v":0.309,"lo":0.297,"hi":0.326},{"site":"JOV","wd":"mar.","v":0.342,"lo":0.322,"hi":0.362},{"site":"JOV","wd":"mié.","v":0.342,"lo":0.326,"hi":0.367},{"site":"JOV","wd":"jue.","v":0.327,"lo":0.315,"hi":0.343},{"site":"JOV","wd":"vie.","v":0.319,"lo":0.305,"hi":0.343},{"site":"JOV","wd":"sáb.","v":0.347,"lo":0.327,"hi":0.362},{"site":"JOV","wd":"dom.","v":0.285,"lo":0.27,"hi":0.3},
{"site":"SJU","wd":"lun.","v":0.203,"lo":0.191,"hi":0.215},{"site":"SJU","wd":"mar.","v":0.203,"lo":0.191,"hi":0.216},{"site":"SJU","wd":"mié.","v":0.203,"lo":0.191,"hi":0.215},{"site":"SJU","wd":"jue.","v":0.182,"lo":0.17,"hi":0.195},{"site":"SJU","wd":"vie.","v":0.196,"lo":0.183,"hi":0.208},{"site":"SJU","wd":"sáb.","v":0.179,"lo":0.168,"hi":0.19},{"site":"SJU","wd":"dom.","v":0.142,"lo":0.136,"hi":0.15}
],
"sites":[{"site":"CAP"},{"site":"COR"},{"site":"EPG"},{"site":"FEO"},{"site":"JOV"},{"site":"SJU"}]
},
"spacing":13,
"vconcat":[
{"hconcat":[
{"width":100.4,"height":104,"data":{"name":"week"},"transform":[{"filter":"datum.d == 0"},{"fold":["CAP","COR","EPG","FEO","JOV","SJU"],"as":["site","ppb"]}],
"layer":[
{"mark":{"type":"line","strokeWidth":5,"opacity":0.3,"strokeJoin":"round"},"encoding":{"x":{"field":"h","type":"quantitative","scale":{"domain":[0,23],"nice":false},"axis":{"orient":"bottom","values":[0,6,12,18,23],"grid":true,"gridColor":{"condition":{"test":"datum.value == 0 || datum.value == 23","value":"#555"},"value":"#e6e6e6"},"title":null,"labelPadding":6}},"y":{"field":"ppb","type":"quantitative","scale":{"domain":[0.012,1.146],"nice":false,"zero":false},"axis":{"orient":"left","values":[0.2,0.4,0.6,0.8,1],"format":".1f","grid":true,"title":"ppb"}},"color":{"field":"site","type":"nominal","scale":{"domain":["CAP","COR","EPG","FEO","JOV","SJU"],"range":["#3A5FCD","#EEC900","#FF3030","#00CD00","#8B008B","#FF8C00"]},"legend":null}}},
{"mark":{"type":"line","strokeWidth":1.5},"encoding":{"x":{"field":"h","type":"quantitative","axis":{"orient":"top","values":[0,6,12,18,23],"grid":false,"title":null,"labels":false}},"y":{"field":"ppb","type":"quantitative","axis":null},"color":{"field":"site","type":"nominal","legend":null}}},
{"data":{"values":[{}]},"mark":{"type":"rule","color":"#555"},"encoding":{"y":{"datum":1.02,"type":"quantitative","axis":null}}},
{"data":{"values":[{}]},"mark":{"type":"text","text":"lunes","fontSize":10,"color":"#333"},"encoding":{"x":{"datum":11.5,"type":"quantitative","axis":null},"y":{"datum":1.083,"type":"quantitative","axis":null}}}
],"resolve":{"axis":{"x":"independent","y":"independent"}}},
{"width":100.4,"height":104,"data":{"name":"week"},"transform":[{"filter":"datum.d == 1"},{"fold":["CAP","COR","EPG","FEO","JOV","SJU"],"as":["site","ppb"]}],
"layer":[
{"mark":{"type":"line","strokeWidth":5,"opacity":0.3,"strokeJoin":"round"},"encoding":{"x":{"field":"h","type":"quantitative","scale":{"domain":[0,23],"nice":false},"axis":{"orient":"bottom","values":[0,6,12,18,23],"grid":true,"gridColor":{"condition":{"test":"datum.value == 0 || datum.value == 23","value":"#555"},"value":"#e6e6e6"},"title":null,"labels":false}},"y":{"field":"ppb","type":"quantitative","scale":{"domain":[0.012,1.146],"nice":false,"zero":false},"axis":{"orient":"left","values":[0.2,0.4,0.6,0.8,1],"grid":true,"labels":false,"ticks":false,"title":null}},"color":{"field":"site","type":"nominal","legend":null}}},
{"mark":{"type":"line","strokeWidth":1.5},"encoding":{"x":{"field":"h","type":"quantitative","axis":{"orient":"top","values":[0,6,12,18,23],"grid":false,"title":null}},"y":{"field":"ppb","type":"quantitative","axis":null},"color":{"field":"site","type":"nominal","legend":null}}},
{"data":{"values":[{}]},"mark":{"type":"rule","color":"#555"},"encoding":{"y":{"datum":1.02,"type":"quantitative","axis":null}}},
{"data":{"values":[{}]},"mark":{"type":"text","text":"martes","fontSize":10,"color":"#333"},"encoding":{"x":{"datum":11.5,"type":"quantitative","axis":null},"y":{"datum":1.083,"type":"quantitative","axis":null}}}
],"resolve":{"axis":{"x":"independent","y":"independent"}}},
{"width":100.4,"height":104,"data":{"name":"week"},"transform":[{"filter":"datum.d == 2"},{"fold":["CAP","COR","EPG","FEO","JOV","SJU"],"as":["site","ppb"]}],
"layer":[
{"mark":{"type":"line","strokeWidth":5,"opacity":0.3,"strokeJoin":"round"},"encoding":{"x":{"field":"h","type":"quantitative","scale":{"domain":[0,23],"nice":false},"axis":{"orient":"bottom","values":[0,6,12,18,23],"grid":true,"gridColor":{"condition":{"test":"datum.value == 0 || datum.value == 23","value":"#555"},"value":"#e6e6e6"},"title":null,"labelPadding":6}},"y":{"field":"ppb","type":"quantitative","scale":{"domain":[0.012,1.146],"nice":false,"zero":false},"axis":{"orient":"left","values":[0.2,0.4,0.6,0.8,1],"grid":true,"labels":false,"ticks":false,"title":null}},"color":{"field":"site","type":"nominal","legend":null}}},
{"mark":{"type":"line","strokeWidth":1.5},"encoding":{"x":{"field":"h","type":"quantitative","axis":{"orient":"top","values":[0,6,12,18,23],"grid":false,"title":null,"labels":false}},"y":{"field":"ppb","type":"quantitative","axis":null},"color":{"field":"site","type":"nominal","legend":null}}},
{"data":{"values":[{}]},"mark":{"type":"rule","color":"#555"},"encoding":{"y":{"datum":1.02,"type":"quantitative","axis":null}}},
{"data":{"values":[{}]},"mark":{"type":"text","text":"miércoles","fontSize":10,"color":"#333"},"encoding":{"x":{"datum":11.5,"type":"quantitative","axis":null},"y":{"datum":1.083,"type":"quantitative","axis":null}}}
],"resolve":{"axis":{"x":"independent","y":"independent"}}},
{"width":100.4,"height":104,"data":{"name":"week"},"transform":[{"filter":"datum.d == 3"},{"fold":["CAP","COR","EPG","FEO","JOV","SJU"],"as":["site","ppb"]}],
"layer":[
{"mark":{"type":"line","strokeWidth":5,"opacity":0.3,"strokeJoin":"round"},"encoding":{"x":{"field":"h","type":"quantitative","scale":{"domain":[0,23],"nice":false},"axis":{"orient":"bottom","values":[0,6,12,18,23],"grid":true,"gridColor":{"condition":{"test":"datum.value == 0 || datum.value == 23","value":"#555"},"value":"#e6e6e6"},"title":"Hora","labels":false,"titlePadding":26}},"y":{"field":"ppb","type":"quantitative","scale":{"domain":[0.012,1.146],"nice":false,"zero":false},"axis":{"orient":"left","values":[0.2,0.4,0.6,0.8,1],"grid":true,"labels":false,"ticks":false,"title":null}},"color":{"field":"site","type":"nominal","legend":null}}},
{"mark":{"type":"line","strokeWidth":1.5},"encoding":{"x":{"field":"h","type":"quantitative","axis":{"orient":"top","values":[0,6,12,18,23],"grid":false,"title":null}},"y":{"field":"ppb","type":"quantitative","axis":null},"color":{"field":"site","type":"nominal","legend":null}}},
{"data":{"values":[{}]},"mark":{"type":"rule","color":"#555"},"encoding":{"y":{"datum":1.02,"type":"quantitative","axis":null}}},
{"data":{"values":[{}]},"mark":{"type":"text","text":"jueves","fontSize":10,"color":"#333"},"encoding":{"x":{"datum":11.5,"type":"quantitative","axis":null},"y":{"datum":1.083,"type":"quantitative","axis":null}}}
],"resolve":{"axis":{"x":"independent","y":"independent"}}},
{"width":100.4,"height":104,"data":{"name":"week"},"transform":[{"filter":"datum.d == 4"},{"fold":["CAP","COR","EPG","FEO","JOV","SJU"],"as":["site","ppb"]}],
"layer":[
{"mark":{"type":"line","strokeWidth":5,"opacity":0.3,"strokeJoin":"round"},"encoding":{"x":{"field":"h","type":"quantitative","scale":{"domain":[0,23],"nice":false},"axis":{"orient":"bottom","values":[0,6,12,18,23],"grid":true,"gridColor":{"condition":{"test":"datum.value == 0 || datum.value == 23","value":"#555"},"value":"#e6e6e6"},"title":null,"labelPadding":6}},"y":{"field":"ppb","type":"quantitative","scale":{"domain":[0.012,1.146],"nice":false,"zero":false},"axis":{"orient":"left","values":[0.2,0.4,0.6,0.8,1],"grid":true,"labels":false,"ticks":false,"title":null}},"color":{"field":"site","type":"nominal","legend":null}}},
{"mark":{"type":"line","strokeWidth":1.5},"encoding":{"x":{"field":"h","type":"quantitative","axis":{"orient":"top","values":[0,6,12,18,23],"grid":false,"title":null,"labels":false}},"y":{"field":"ppb","type":"quantitative","axis":null},"color":{"field":"site","type":"nominal","legend":null}}},
{"data":{"values":[{}]},"mark":{"type":"rule","color":"#555"},"encoding":{"y":{"datum":1.02,"type":"quantitative","axis":null}}},
{"data":{"values":[{}]},"mark":{"type":"text","text":"viernes","fontSize":10,"color":"#333"},"encoding":{"x":{"datum":11.5,"type":"quantitative","axis":null},"y":{"datum":1.083,"type":"quantitative","axis":null}}}
],"resolve":{"axis":{"x":"independent","y":"independent"}}},
{"width":100.4,"height":104,"data":{"name":"week"},"transform":[{"filter":"datum.d == 5"},{"fold":["CAP","COR","EPG","FEO","JOV","SJU"],"as":["site","ppb"]}],
"layer":[
{"mark":{"type":"line","strokeWidth":5,"opacity":0.3,"strokeJoin":"round"},"encoding":{"x":{"field":"h","type":"quantitative","scale":{"domain":[0,23],"nice":false},"axis":{"orient":"bottom","values":[0,6,12,18,23],"grid":true,"gridColor":{"condition":{"test":"datum.value == 0 || datum.value == 23","value":"#555"},"value":"#e6e6e6"},"title":null,"labels":false}},"y":{"field":"ppb","type":"quantitative","scale":{"domain":[0.012,1.146],"nice":false,"zero":false},"axis":{"orient":"left","values":[0.2,0.4,0.6,0.8,1],"grid":true,"labels":false,"ticks":false,"title":null}},"color":{"field":"site","type":"nominal","legend":null}}},
{"mark":{"type":"line","strokeWidth":1.5},"encoding":{"x":{"field":"h","type":"quantitative","axis":{"orient":"top","values":[0,6,12,18,23],"grid":false,"title":null}},"y":{"field":"ppb","type":"quantitative","axis":null},"color":{"field":"site","type":"nominal","legend":null}}},
{"data":{"values":[{}]},"mark":{"type":"rule","color":"#555"},"encoding":{"y":{"datum":1.02,"type":"quantitative","axis":null}}},
{"data":{"values":[{}]},"mark":{"type":"text","text":"sábado","fontSize":10,"color":"#333"},"encoding":{"x":{"datum":11.5,"type":"quantitative","axis":null},"y":{"datum":1.083,"type":"quantitative","axis":null}}}
],"resolve":{"axis":{"x":"independent","y":"independent"}}},
{"width":100.4,"height":104,"data":{"name":"week"},"transform":[{"filter":"datum.d == 6"},{"fold":["CAP","COR","EPG","FEO","JOV","SJU"],"as":["site","ppb"]}],
"layer":[
{"mark":{"type":"line","strokeWidth":5,"opacity":0.3,"strokeJoin":"round"},"encoding":{"x":{"field":"h","type":"quantitative","scale":{"domain":[0,23],"nice":false},"axis":{"orient":"bottom","values":[0,6,12,18,23],"grid":true,"gridColor":{"condition":{"test":"datum.value == 0 || datum.value == 23","value":"#555"},"value":"#e6e6e6"},"title":null,"labelPadding":6,"labelAlign":{"condition":{"test":"datum.value == 23","value":"right"},"value":"center"}}},"y":{"field":"ppb","type":"quantitative","scale":{"domain":[0.012,1.146],"nice":false,"zero":false},"axis":{"orient":"left","values":[0.2,0.4,0.6,0.8,1],"grid":true,"labels":false,"ticks":false,"title":null}},"color":{"field":"site","type":"nominal","legend":null}}},
{"mark":{"type":"line","strokeWidth":1.5},"encoding":{"x":{"field":"h","type":"quantitative","axis":{"orient":"top","values":[0,6,12,18,23],"grid":false,"title":null,"labels":false}},"y":{"field":"ppb","type":"quantitative","axis":{"orient":"right","values":[0.2,0.4,0.6,0.8,1],"labels":false,"grid":false,"title":null}},"color":{"field":"site","type":"nominal","legend":null}}},
{"data":{"values":[{}]},"mark":{"type":"rule","color":"#555"},"encoding":{"y":{"datum":1.02,"type":"quantitative","axis":null}}},
{"data":{"values":[{}]},"mark":{"type":"text","text":"domingo","fontSize":10,"color":"#333"},"encoding":{"x":{"datum":11.5,"type":"quantitative","axis":null},"y":{"datum":1.083,"type":"quantitative","axis":null}}}
],"resolve":{"axis":{"x":"independent","y":"independent"}}}
],"spacing":0,"bounds":"flush"},
{"width":686,"height":29,"view":{"stroke":null},"data":{"name":"sites"},
"layer":[
{"mark":{"type":"point","shape":"M-1,-0.42H1V0.42H-1Z","filled":true,"size":676,"opacity":1,"yOffset":-2},"encoding":{"x":{"field":"site","type":"nominal","scale":{"type":"point","padding":1.526},"axis":null},"color":{"field":"site","type":"nominal","legend":null}}},
{"mark":{"type":"text","align":"left","dx":24,"dy":-2,"fontSize":11.5,"color":"#333"},"encoding":{"x":{"field":"site","type":"nominal","axis":null},"text":{"field":"site"}}}
]},
{"hconcat":[
{"width":180,"height":154,"data":{"name":"hour"},"transform":[{"fold":["CAP","COR","EPG","FEO","JOV","SJU"],"as":["site","ppb"]}],
"layer":[
{"mark":{"type":"line","strokeWidth":8,"opacity":0.3,"strokeJoin":"round"},"encoding":{"x":{"field":"h","type":"quantitative","scale":{"domain":[0,23],"nice":false},"axis":{"orient":"bottom","values":[0,6,12,18,23],"grid":true,"gridColor":{"condition":{"test":"datum.value == 0 || datum.value == 23","value":"#555"},"value":"#e6e6e6"},"title":"Hora","labelPadding":6,"titlePadding":9}},"y":{"field":"ppb","type":"quantitative","scale":{"domain":[0.036,0.754],"nice":false,"zero":false},"axis":{"orient":"left","values":[0.2,0.4,0.6],"format":".1f","grid":true,"title":"ppb"}},"color":{"field":"site","type":"nominal","legend":null}}},
{"mark":{"type":"line","strokeWidth":1.5},"encoding":{"x":{"field":"h","type":"quantitative","axis":{"orient":"top","values":[0,6,12,18,23],"labels":false,"grid":false,"title":null}},"y":{"field":"ppb","type":"quantitative","axis":{"orient":"right","values":[0.2,0.4,0.6],"labels":false,"grid":false,"title":null}},"color":{"field":"site","type":"nominal","legend":null}}}
],"resolve":{"axis":{"x":"independent","y":"independent"}}},
{"width":180,"height":154,"data":{"name":"month"},
"layer":[
{"mark":{"type":"rule","strokeWidth":10,"opacity":0.4,"strokeCap":"butt"},"encoding":{"x":{"field":"m","type":"ordinal","scale":{"type":"point","padding":0.56},"axis":{"orient":"bottom","labelExpr":"['e','f','m','a','m','j','j','a','s','o','n','d'][datum.value-1]","labelAngle":0,"grid":true,"title":"Mes","labelPadding":6,"titlePadding":9}},"y":{"field":"lo","type":"quantitative","scale":{"domain":[0.088,0.597],"nice":false,"zero":false},"axis":{"orient":"left","values":[0.1,0.2,0.3,0.4,0.5],"format":".1f","grid":true,"title":"ppb"}},"y2":{"field":"hi"},"color":{"field":"site","type":"nominal","legend":null}}},
{"mark":{"type":"line","strokeWidth":1.4},"encoding":{"x":{"field":"m","type":"ordinal","axis":{"orient":"top","labels":false,"grid":false,"title":null}},"y":{"field":"v","type":"quantitative","axis":{"orient":"right","values":[0.1,0.2,0.3,0.4,0.5],"labels":false,"grid":false,"title":null}},"color":{"field":"site","type":"nominal","legend":null}}}
],"resolve":{"axis":{"x":"independent","y":"independent"}}},
{"width":182,"height":154,"data":{"name":"wday"},
"layer":[
{"mark":{"type":"rule","strokeWidth":15,"opacity":0.4,"strokeCap":"butt"},"encoding":{"x":{"field":"wd","type":"nominal","scale":{"type":"point","padding":0.33,"domain":["lun.","mar.","mié.","jue.","vie.","sáb.","dom."]},"axis":{"orient":"bottom","labelAngle":0,"grid":true,"title":"Semana","labelPadding":6,"titlePadding":9}},"y":{"field":"lo","type":"quantitative","scale":{"domain":[0.127,0.377],"nice":false,"zero":false},"axis":{"orient":"left","values":[0.15,0.2,0.25,0.3,0.35],"format":".2f","grid":true,"title":"ppb","titlePadding":7.5}},"y2":{"field":"hi"},"color":{"field":"site","type":"nominal","legend":null}}},
{"mark":{"type":"line","strokeWidth":1.4},"encoding":{"x":{"field":"wd","type":"nominal","axis":{"orient":"top","labels":false,"grid":false,"title":null}},"y":{"field":"v","type":"quantitative","axis":{"orient":"right","values":[0.15,0.2,0.25,0.3,0.35],"labels":false,"grid":false,"title":null}},"color":{"field":"site","type":"nominal","legend":null}}}
],"resolve":{"axis":{"x":"independent","y":"independent"}}}
],"spacing":30}
]
}
